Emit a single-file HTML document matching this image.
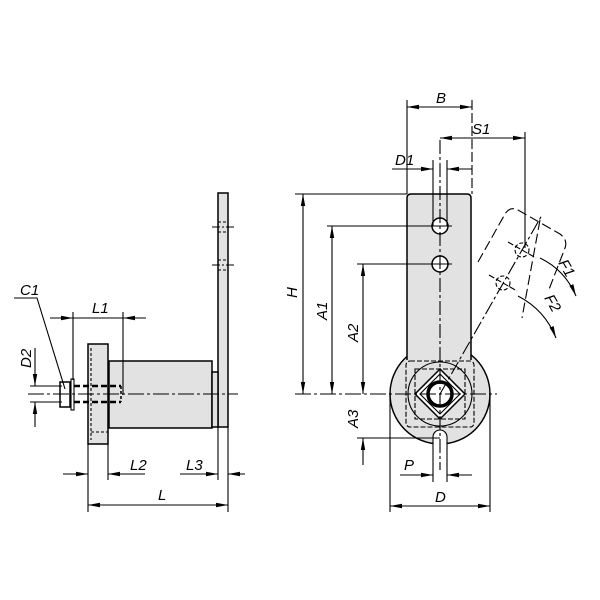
<!DOCTYPE html>
<html><head><meta charset="utf-8"><style>
html,body{margin:0;padding:0;background:#fff}
svg{display:block}
text{font-family:"Liberation Sans",sans-serif;font-style:italic;font-size:15px;fill:#000}
</style></head><body>
<svg width="600" height="600" viewBox="0 0 600 600" xmlns="http://www.w3.org/2000/svg">
<defs>
<marker id="a" viewBox="0 0 12 6" refX="12" refY="3" markerWidth="12" markerHeight="6" markerUnits="userSpaceOnUse" orient="auto-start-reverse">
<path d="M0,0.8 L12,3 L0,5.2 Z" fill="#000"/></marker>
</defs>
<g stroke="#000" fill="none" stroke-width="1.1">
<!-- LEFT VIEW -->
<rect x="218" y="193" width="10" height="234" fill="#e2e2e2" stroke-width="1.5"/>
<line x1="212" y1="227" x2="234" y2="227" stroke-dasharray="8,2,2,2"/>
<line x1="212" y1="265" x2="234" y2="265" stroke-dasharray="8,2,2,2"/>
<line x1="218" y1="222" x2="228" y2="222" stroke-dasharray="3,2"/>
<line x1="218" y1="232" x2="228" y2="232" stroke-dasharray="3,2"/>
<line x1="218" y1="260" x2="228" y2="260" stroke-dasharray="3,2"/>
<line x1="218" y1="270" x2="228" y2="270" stroke-dasharray="3,2"/>
<rect x="109" y="361" width="103" height="67" fill="#e2e2e2" stroke-width="1.5"/>
<rect x="212" y="372" width="6" height="55" fill="#e2e2e2" stroke-width="1.5"/>
<rect x="88" y="344" width="20" height="100" fill="#e2e2e2" stroke-width="1.5"/>
<line x1="91" y1="348" x2="91" y2="440" stroke-dasharray="3,2"/>
<line x1="91" y1="432" x2="108" y2="432" stroke-dasharray="3,2"/>
<line x1="74" y1="386" x2="121" y2="386" stroke-width="2.5" stroke-dasharray="6,3"/>
<line x1="74" y1="402" x2="121" y2="402" stroke-width="2.5" stroke-dasharray="6,3"/>
<line x1="121" y1="386" x2="121" y2="402" stroke-width="1.5" stroke-dasharray="3,2"/>
<rect x="60" y="382" width="10" height="25" fill="#fff" stroke-width="1.5"/>
<rect x="71" y="379" width="3" height="31" fill="#fff"/>
<line x1="28" y1="394" x2="238" y2="394" stroke-dasharray="16,3,3,3"/>
<!-- C1 -->
<polyline points="14,298 37,298 65,389"/>
<!-- L1 -->
<line x1="73" y1="312" x2="73" y2="380"/>
<line x1="123" y1="312" x2="123" y2="395"/>
<line x1="50" y1="318" x2="73" y2="318" marker-end="url(#a)"/>
<line x1="73" y1="318" x2="123" y2="318"/>
<line x1="146" y1="318" x2="123" y2="318" marker-end="url(#a)"/>
<!-- D2 -->
<line x1="30" y1="386" x2="62" y2="386"/>
<line x1="30" y1="402" x2="62" y2="402"/>
<line x1="35" y1="348" x2="35" y2="386" marker-end="url(#a)"/>
<line x1="35" y1="427" x2="35" y2="402" marker-end="url(#a)"/>
<!-- L2, L3, L -->
<line x1="88" y1="444" x2="88" y2="512"/>
<line x1="108" y1="444" x2="108" y2="480"/>
<line x1="218" y1="427" x2="218" y2="480"/>
<line x1="228" y1="427" x2="228" y2="512"/>
<line x1="63" y1="474" x2="88" y2="474" marker-end="url(#a)"/>
<line x1="145" y1="474" x2="108" y2="474" marker-end="url(#a)"/>
<line x1="180" y1="474" x2="218" y2="474" marker-end="url(#a)"/>
<line x1="245" y1="474" x2="228" y2="474" marker-end="url(#a)"/>
<line x1="88" y1="505" x2="228" y2="505" marker-start="url(#a)" marker-end="url(#a)"/>

<!-- RIGHT VIEW -->
<circle cx="440" cy="394" r="50" fill="#e2e2e2" stroke-width="1.5"/>
<path d="M407,360 L407,198 Q407,194 411,194 L467,194 Q471,194 471,198 L471,360" fill="#e2e2e2" stroke-width="1.5"/>
<circle cx="440" cy="394" r="32" fill="#e2e2e2"/>
<rect x="406" y="361" width="68" height="66" rx="4" stroke-dasharray="5,2"/>
<rect x="415" y="369" width="50" height="50" stroke-dasharray="5,2"/>
<path d="M440,369 L465,394 L440,419 L415,394 Z" fill="#fff" stroke-width="1.5"/>
<path d="M440,374 L460,394 L440,414 L420,394 Z"/>
<circle cx="440" cy="394" r="12" fill="#fff" stroke-width="3.5"/>
<path d="M433,445 L433,437 A7,7 0 0 1 447,437 L447,445" fill="#fff"/>
<circle cx="440" cy="226" r="8" fill="#fff" stroke-width="1.5"/>
<circle cx="440" cy="264" r="8" fill="#fff" stroke-width="1.5"/>
<line x1="433" y1="194" x2="433" y2="226"/>
<line x1="447" y1="194" x2="447" y2="226"/>
<line x1="440" y1="140" x2="440" y2="470" stroke-dasharray="14,3,3,3"/>
<line x1="295" y1="394" x2="497" y2="394" stroke-dasharray="16,3,3,3"/>
<!-- B, S1, D1 -->
<line x1="407" y1="100" x2="407" y2="194"/>
<line x1="472" y1="100" x2="472" y2="194" stroke-dasharray="10,3"/>
<line x1="407" y1="107" x2="472" y2="107" marker-start="url(#a)" marker-end="url(#a)"/>
<line x1="440" y1="138" x2="525" y2="138" marker-start="url(#a)" marker-end="url(#a)"/>
<line x1="525" y1="132" x2="525" y2="248"/>
<line x1="392" y1="169" x2="433" y2="169" marker-end="url(#a)"/>
<line x1="472" y1="169" x2="447" y2="169" marker-end="url(#a)"/>
<line x1="433" y1="160" x2="433" y2="194"/>
<line x1="447" y1="160" x2="447" y2="194"/>
<!-- H, A1, A2, A3 -->
<line x1="295" y1="194" x2="407" y2="194"/>
<line x1="303" y1="194" x2="303" y2="394" marker-start="url(#a)" marker-end="url(#a)"/>
<line x1="327" y1="226" x2="452" y2="226"/>
<line x1="332" y1="226" x2="332" y2="394" marker-start="url(#a)" marker-end="url(#a)"/>
<line x1="357" y1="264" x2="452" y2="264"/>
<line x1="363" y1="264" x2="363" y2="394" marker-start="url(#a)" marker-end="url(#a)"/>
<line x1="357" y1="438" x2="440" y2="438"/>
<line x1="363" y1="465" x2="363" y2="438" marker-end="url(#a)"/>
<!-- P, D -->
<line x1="433" y1="445" x2="433" y2="482"/>
<line x1="447" y1="445" x2="447" y2="482"/>
<line x1="400" y1="475" x2="433" y2="475" marker-end="url(#a)"/>
<line x1="472" y1="475" x2="447" y2="475" marker-end="url(#a)"/>
<line x1="390" y1="394" x2="390" y2="512"/>
<line x1="490" y1="394" x2="490" y2="512"/>
<line x1="390" y1="506" x2="490" y2="506" marker-start="url(#a)" marker-end="url(#a)"/>
<!-- rotated lever phantom -->
<line x1="440" y1="394" x2="542" y2="215" stroke-dasharray="14,3,3,3"/>
<path d="M478,262 L505,214 Q510,206 518,210 L560,234 Q568,240 565,248 L548,292" stroke-dasharray="10,4"/>
<line x1="540" y1="220" x2="522" y2="318" stroke-dasharray="10,4"/>
<circle cx="522" cy="250" r="7" stroke-dasharray="4,2"/>
<circle cx="503" cy="283" r="7" stroke-dasharray="4,2"/>
<line x1="508" y1="242" x2="536" y2="258" stroke-dasharray="6,2"/>
<line x1="489" y1="275" x2="517" y2="291" stroke-dasharray="6,2"/>
<path d="M540,258 Q565,270 576,296" marker-end="url(#a)"/>
<path d="M518,296 Q545,310 556,338" marker-end="url(#a)"/>
</g>
<g>
<text x="20" y="295">C1</text>
<text x="92" y="313">L1</text>
<text x="130" y="470">L2</text>
<text x="186" y="470">L3</text>
<text x="158" y="500">L</text>
<text transform="translate(31,368) rotate(-90)">D2</text>
<text x="436" y="103">B</text>
<text x="472" y="134">S1</text>
<text x="395" y="165">D1</text>
<text x="404" y="470">P</text>
<text x="435" y="502">D</text>
<text transform="translate(297,298) rotate(-90)">H</text>
<text transform="translate(327,320) rotate(-90)">A1</text>
<text transform="translate(358,342) rotate(-90)">A2</text>
<text transform="translate(358,428) rotate(-90)">A3</text>
<text transform="translate(558,263) rotate(60)">F1</text>
<text transform="translate(544,298) rotate(60)">F2</text>
</g>
</svg>
</body></html>
